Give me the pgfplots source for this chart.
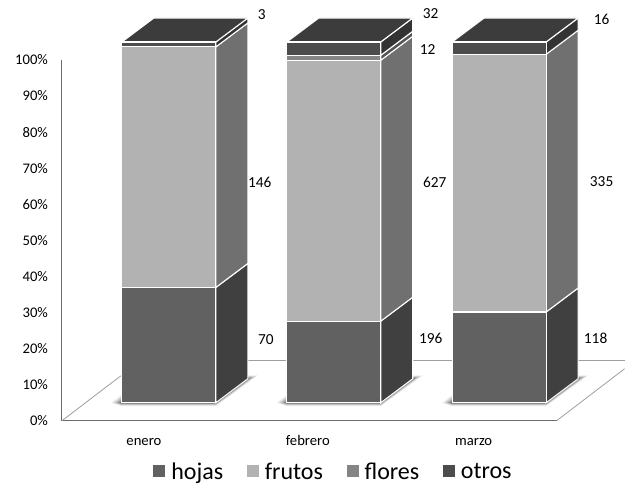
\documentclass[border=0pt]{standalone}
\usepackage{pgfplots}
\pgfplotsset{compat=1.18}
\usepackage{fontspec}
\setmainfont{Carlito}
\definecolor{hojaF}{gray}{0.38}
\definecolor{hojaS}{gray}{0.25}
\definecolor{frutoF}{gray}{0.70}
\definecolor{frutoS}{gray}{0.44}
\definecolor{florF}{gray}{0.52}
\definecolor{florS}{gray}{0.33}
\definecolor{otroF}{gray}{0.30}
\definecolor{otroS}{gray}{0.20}
\definecolor{techo}{gray}{0.235}
\definecolor{piso}{gray}{0.62}

% one pixel of the drawing is 0.75pt
\pgfmathsetmacro{\pct}{361/100}   % pixels per percent point
\newcommand{\cara}[4]{% right edge of the bar, lower and upper percent, colour
  \pgfmathsetmacro{\xa}{#1+32}%
  \pgfmathsetmacro{\ya}{#2+24/\pct}%
  \pgfmathsetmacro{\yb}{#3+24/\pct}%
  \edef\temp{\noexpand\addplot[fill=#4,draw=white,line width=0.8pt]
    coordinates {(#1,#2) (\xa,\ya) (\xa,\yb) (#1,#3)} -- cycle;}\temp}
\newcommand{\techo}[2]{% left and right edge of the bar
  \pgfmathsetmacro{\xa}{#1+32}%
  \pgfmathsetmacro{\xb}{#2+32}%
  \pgfmathsetmacro{\yb}{100+24/\pct}%
  \edef\temp{\noexpand\addplot[fill=techo,draw=white,line width=0.8pt]
    coordinates {(#1,100) (\xa,\yb) (\xb,\yb) (#2,100)} -- cycle;}\temp}
\newcommand{\capa}[4]{% left and right edge of the bar, spread in pixels, opacity
  \pgfmathsetmacro{\xl}{#1-#3}%
  \pgfmathsetmacro{\xs}{#2+32+#3}%
  \pgfmathsetmacro{\xi}{#2+32}%
  \pgfmathsetmacro{\yd}{-#3/3/\pct}%
  \pgfmathsetmacro{\yt}{(24+#3/3)/\pct}%
  \pgfmathsetmacro{\ye}{#3*0.8/\pct}%
  \edef\temp{\noexpand\addplot[fill=black,fill opacity=#4,draw=none]
    coordinates {(\xl,0) (#1,\ye) (#1,0) (#2,0) (\xi,24/\pct) (\xi,\yt) (\xs,\yt) (#2,\yd) (#1,\yd)} -- cycle;}\temp}
\newcommand{\sombra}[2]{% soft shadow of a bar on the floor
  \capa{#1}{#2}{10}{0.07}\capa{#1}{#2}{8}{0.10}\capa{#1}{#2}{6}{0.13}\capa{#1}{#2}{4}{0.17}\capa{#1}{#2}{2}{0.22}}

\pgfplotstableread{
x      hojas frutos flores otros
169    31.96 66.67  0.00   1.37
334    22.61 72.32  1.38   3.69
499.5  25.16 71.43  0.00   3.41
}\datos

\pgfplotsset{marco/.style={
  scale only axis,
  width=371.25pt, height=270.75pt,
  xmin=62, xmax=557,
  ymin=-4.986, ymax=95.014,
  clip=false}}

\newcommand{\etq}[3]{\node[font=\fontsize{11.5}{13}\selectfont] at (axis cs:#1,{(421-#2)/3.61-4.986}) {#3};}

\begin{document}
\begin{tikzpicture}
\begin{axis}[
  marco,
  axis x line*=bottom,
  axis y line*=left,
  axis line style={gray!85!black,line width=0.7pt},
  ytick={-4.986,5.014,15.014,25.014,35.014,45.014,55.014,65.014,75.014,85.014,95.014},
  yticklabels={0\%,10\%,20\%,30\%,40\%,50\%,60\%,70\%,80\%,90\%,100\%},
  xtick={144,308,474},
  xticklabels={enero,febrero,marzo},
  major tick length=0pt,
  tick label style={font=\fontsize{11}{13}\selectfont},
  yticklabel style={xshift=-7pt},
  xticklabel style={yshift=-8pt,text depth=0.3ex,text height=1.5ex},
  no markers,
]
% floor of the chart
\addplot[draw=piso,line width=0.6pt] coordinates {(62,-4.986) (121,7.48)};
\addplot[draw=piso,line width=0.6pt] coordinates {(557,-4.986) (625,9.42)};
\addplot[draw=piso,line width=0.6pt] coordinates {(216,11.63) (625,11.63)};

\sombra{121.5}{216}
\sombra{287}{381}
\sombra{452.5}{546.5}

% side faces and tops
\cara{216}{0}{31.96}{hojaS}
\cara{216}{31.96}{98.63}{frutoS}
\cara{216}{98.63}{100}{otroS}
\techo{122}{216}
\cara{381}{0}{22.61}{hojaS}
\cara{381}{22.61}{94.93}{frutoS}
\cara{381}{94.93}{96.31}{florS}
\cara{381}{96.31}{100}{otroS}
\techo{287}{381}
\cara{546.5}{0}{25.16}{hojaS}
\cara{546.5}{25.16}{96.59}{frutoS}
\cara{546.5}{96.59}{100}{otroS}
\techo{452.5}{546.5}

% value labels
\etq{262}{15}{3}\etq{260}{182}{146}\etq{266}{340}{70}
\etq{431}{14}{32}\etq{428}{50}{12}\etq{435}{182}{627}\etq{431}{339}{196}
\etq{602}{19}{16}\etq{602}{182}{335}\etq{596}{339}{118}
% page frame
\path[use as bounding box] (axis cs:0,{(421-485)/3.61-4.986}) rectangle (axis cs:625,{421/3.61-4.986});
\end{axis}
\begin{axis}[
  marco,
  hide axis,
  ybar stacked,
  bar width=94,
  legend style={at={(axis cs:334,-19.3)},anchor=center,draw=none,fill=none,
    legend columns=4,font=\fontsize{18}{20}\selectfont,
    /tikz/every even column/.style={column sep=15.7pt},
    /tikz/every odd column/.style={column sep=2.5pt}},
  legend image code/.code={\fill[#1,draw=none] (0cm,-0.12cm) rectangle (0.3175cm,0.1975cm);},
]
\addplot[fill=hojaF,draw=white,line width=0.8pt] table[x=x,y=hojas] {\datos};
\addplot[fill=frutoF,draw=white,line width=0.8pt] table[x=x,y=frutos] {\datos};
\addplot[fill=florF,draw=white,line width=0.8pt] table[x=x,y=flores] {\datos};
\addplot[fill=otroF,draw=white,line width=0.8pt] table[x=x,y=otros] {\datos};
\legend{hojas,frutos,flores,otros}
\end{axis}
\end{tikzpicture}
\end{document}
